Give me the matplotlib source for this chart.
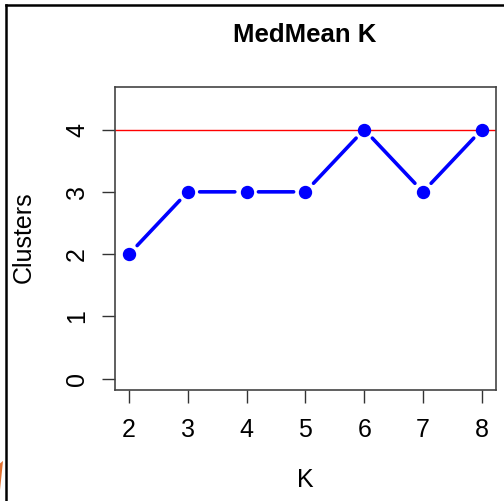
import matplotlib
matplotlib.use("Agg")
import matplotlib.pyplot as plt
from matplotlib.lines import Line2D
from matplotlib.patches import Polygon

# data
k_values = [2, 3, 4, 5, 6, 7, 8]
clusters = [2, 3, 3, 3, 4, 3, 4]
ref_level = 4
x_ticks = [2, 3, 4, 5, 6, 7, 8]
y_ticks = [0, 1, 2, 3, 4]

plt.rcParams.update({'font.family': 'sans-serif',
                     'font.sans-serif': ['Liberation Sans', 'DejaVu Sans']})

fig = plt.figure(figsize=(5.04, 5.01), dpi=100)
ax = fig.add_axes([0.228, 0.2216, 0.756, 0.6044])

# R type="b": points with gapped connecting segments
ax.plot(k_values, clusters, 'o', color='blue', markersize=8.6, zorder=4)
for i in range(len(k_values) - 1):
    ax.annotate('', xy=(k_values[i + 1], clusters[i + 1]),
                xytext=(k_values[i], clusters[i]),
                arrowprops=dict(arrowstyle='-', color='blue', lw=2.6,
                                shrinkA=8.5, shrinkB=8.5),
                zorder=3)

ax.axhline(ref_level, color='red', lw=1.0, zorder=2)

ax.set_xlim(1.76, 8.24)
ax.set_ylim(-0.18, 4.68)
ax.set_xticks(x_ticks)
ax.set_yticks(y_ticks)
ax.tick_params(axis='both', length=9.5, width=1.0, color='#333333',
               labelsize=18)
ax.tick_params(axis='x', pad=11)
ax.tick_params(axis='y', pad=9)
for lab in ax.get_yticklabels():
    lab.set_rotation(90)
    lab.set_va('center')
for sp in ax.spines.values():
    sp.set_color('#444444')
    sp.set_linewidth(1.2)

fig.text(0.605, 0.93, 'MedMean K', ha='center', va='center',
         fontsize=18.5, fontweight='bold')
fig.text(0.605, 0.042, 'K', ha='center', va='center', fontsize=18)
fig.text(0.048, 0.526, 'Clusters', ha='center', va='center',
         fontsize=18, rotation=90)

# outer frame fragments from the screenshot
fig.add_artist(Line2D([0.011, 0.011], [0.0, 0.99], color='black', lw=1.8))
fig.add_artist(Line2D([0.011, 1.0], [0.99, 0.99], color='black', lw=1.8))
fig.add_artist(Polygon([[0.0, 0.022], [0.006, 0.08], [0.0, 0.075]],
                       closed=True, color='#e07030', lw=0))

fig.savefig('out.png', dpi=100)
